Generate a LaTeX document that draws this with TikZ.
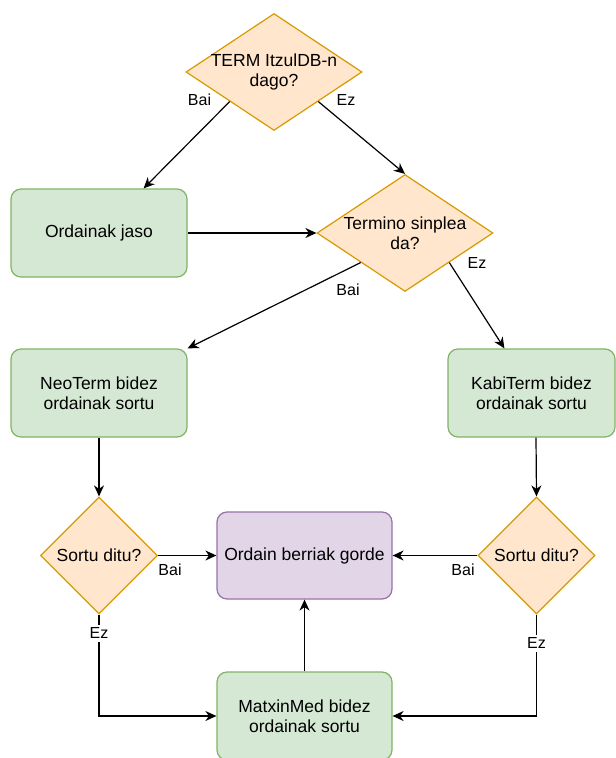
\documentclass[tikz,border=0pt]{standalone}
\usepackage{fontspec}
\setmainfont{Liberation Sans}
\usetikzlibrary{shapes.geometric,arrows.meta}
\definecolor{gfill}{HTML}{D5E8D4}
\definecolor{gline}{HTML}{82B366}
\definecolor{ofill}{HTML}{FFE6CC}
\definecolor{oline}{HTML}{D79B00}
\definecolor{pfill}{HTML}{E1D5E7}
\definecolor{pline}{HTML}{9673A6}
\begin{document}
\begin{tikzpicture}[x=1pt,y=-1pt,
  txt/.style={font=\fontsize{17.5}{20.4}\selectfont, align=center},
  box/.style={txt, draw=gline, fill=gfill, rounded corners=10pt, line width=1.2pt,
    minimum width=176pt, minimum height=88pt, inner sep=0pt},
  pbox/.style={box, draw=pline, fill=pfill},
  dec/.style={diamond, draw=oline, fill=ofill, line width=1.2pt, inner sep=0pt},
  lbl/.style={font=\fontsize{16}{18}\selectfont, inner sep=1pt},
  arr/.style={-{Stealth[length=11pt,width=10pt,inset=3.5pt]}, line width=1.2pt}]
\clip (0,0) rectangle (616,758);
\fill[white] (0,0) rectangle (616,758);
% decisions
\node[dec, minimum width=176pt, minimum height=117pt] (d1) at (274,72) {};
\node[txt] (t1) at (d1.center) {TERM ItzulDB-n\\dago?};
\node[dec, minimum width=176pt, minimum height=117pt] (d2) at (405,233) {};
\node[txt] (t2) at (d2.center) {Termino sinplea\\da?};
\node[dec, minimum width=117pt, minimum height=117pt] (s1) at (99,555.5) {};
\node[txt] (t3) at (s1.center) {Sortu ditu?};
\node[dec, minimum width=117pt, minimum height=117pt] (s2) at (536.5,555.5) {};
\node[txt] (t4) at (s2.center) {Sortu ditu?};
% boxes
\node[box] (oj) at (99,233) {Ordainak jaso};
\node[box] (nt) at (99,393) {NeoTerm bidez\\ordainak sortu};
\node[box, minimum width=167pt] (kt) at (531.5,393) {KabiTerm bidez\\ordainak sortu};
\node[pbox, minimum width=175pt, minimum height=87pt] (og) at (304.5,555.5) {Ordain berriak gorde};
\node[box, minimum width=175pt] (mm) at (304.5,716) {MatxinMed bidez\\ordainak sortu};
% connectors
\draw[arr] (d1.south west) -- ([xshift=-44pt]oj.north east);
\draw[arr] (d1.south east) -- (d2.north);
\draw[arr] (oj.east) -- (d2.west);
\draw[arr] (d2.south west) -- (nt.north east);
\draw[arr] (d2.south east) -- ([xshift=57pt]kt.north west);
\draw[arr] (nt.south) -- (s1.north);
\draw[arr] ([xshift=4.5pt]kt.south) -- (s2.north);
\draw[arr] (s1.east) -- (og.west);
\draw[arr] (s2.west) -- (og.east);
\draw[arr] (s1.south) |- (mm.west);
\draw[arr] (s2.south) |- (mm.east);
\draw[arr] (mm.north) -- (og.south);
% labels
\node[lbl] (l1) at (199.5,100) {Bai};
\node[lbl] (l2) at (346,100) {Ez};
\node[lbl] (l3) at (348,290) {Bai};
\node[lbl] (l4) at (477,263) {Ez};
\node[lbl] (l5) at (170,570) {Bai};
\node[lbl] (l6) at (463,570) {Bai};
\node[lbl, fill=white, inner sep=3pt] (l7) at (99,633) {Ez};
\node[lbl, fill=white, inner sep=3pt] (l8) at (536.5,643) {Ez};
\end{tikzpicture}
\end{document}
